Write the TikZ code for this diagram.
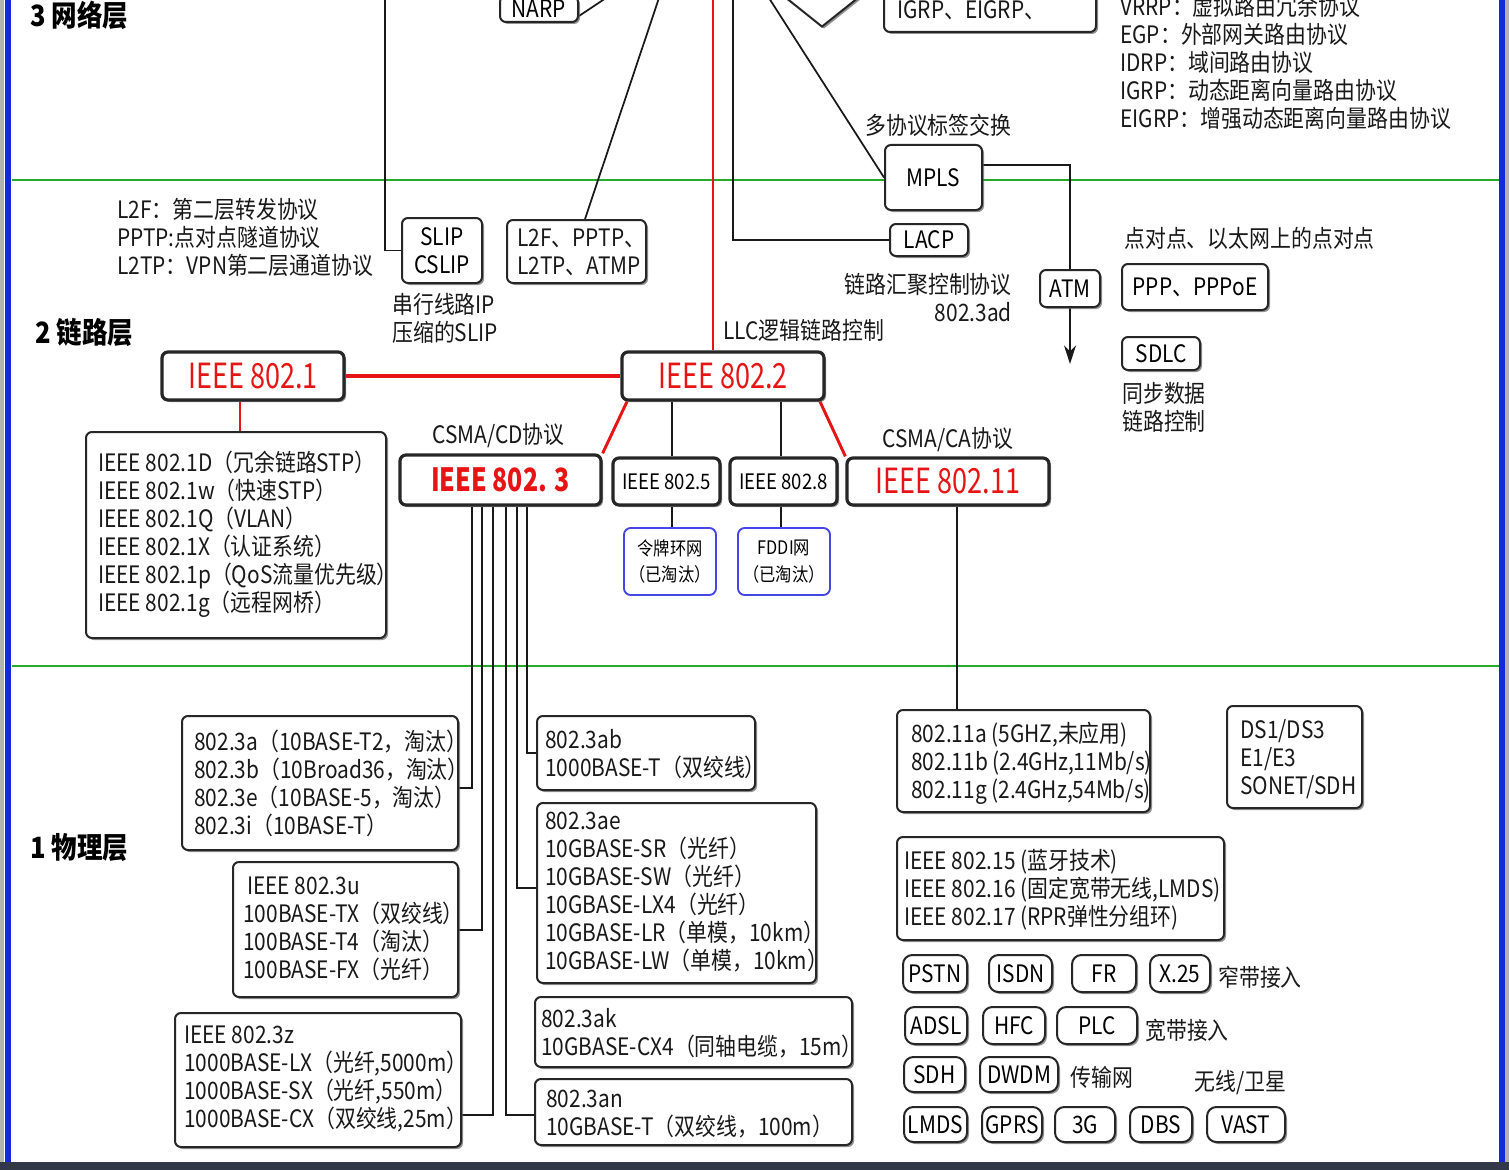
\documentclass[tikz,border=0pt]{standalone}
\usepackage{fontspec}
\setmainfont{Noto Sans CJK SC}[FakeStretch=0.87]
\newfontfamily\bigfont{Noto Sans CJK SC}[FakeStretch=0.78]
\usetikzlibrary{shadows,arrows.meta,shapes.geometric}
\definecolor{lgreen}{RGB}{40,170,40}
\definecolor{bred}{RGB}{230,20,20}
\definecolor{bblue}{RGB}{70,70,230}
\definecolor{fblue}{RGB}{20,40,220}
\definecolor{dbar}{RGB}{50,56,72}
\pgfdeclarelayer{bg}
\pgfsetlayers{bg,main}
\begin{document}
\begin{tikzpicture}[x=0.75pt,y=-0.75pt,
  f/.style={font=\fontsize{18pt}{21pt}\selectfont},
  txt/.style={f, inner sep=0pt, align=left, text=black!90},
  bxr/.style n args={4}{minimum width={((#3)-(#1))*0.75pt}, minimum height={((#4)-(#2))*0.75pt},
    at={({((#1)+(#3))/2},{((#2)+(#4))/2})}},
  bx/.style={draw=black!85, line width=1.5pt, rounded corners=4.5pt, fill=white, inner sep=0pt,
    drop shadow={shadow xshift=1.5pt, shadow yshift=-1.5pt, fill=black!60, opacity=0.7}, f, align=center},
  tbx/.style={bx, line width=2.4pt},
  blbx/.style={draw=bblue, line width=1.4pt, rounded corners=5pt, fill=white, inner sep=0pt,
    align=center, font=\fontsize{14pt}{20pt}\selectfont},
  sbx/.style={bx, rounded corners=7pt},
  ln/.style={draw=black!90, line width=1.3pt},
  rln/.style={draw=bred, line width=2.2pt},
  big/.style={text=bred, font=\bigfont\fontsize{26pt}{30pt}\selectfont},
  layer/.style={font=\fontsize{22pt}{26pt}\selectfont\bfseries, inner sep=0pt, anchor=west},
  gline/.style={draw=lgreen, line width=2pt},
]
\useasboundingbox (0,0) rectangle (1509,1170);
\clip (0,0) rectangle (1509,1170);

% ---------- layer labels
\node[layer] (l3) at (30,15) {3 网络层};
\node[layer] (l2) at (35,332) {2 链路层};
\node[layer] (l1) at (30,848) {1 物理层};

% ---------- top (network layer, cropped)
\node[bx, bxr={500}{-4}{578}{22}] (narp) {NARP};
\node[bx, diamond, minimum width=75pt, minimum height=60pt, rounded corners=0pt] (dia) at (822,-13) {};
\node[bx, bxr={884}{-30}{1096}{32}] (igrp) {};
\node[txt, anchor=west] (igrpt) at (897,10) {IGRP、EIGRP、};
\node[txt, anchor=west] (rtxt) at (1120,62) {VRRP：虚拟路由冗余协议\\EGP：外部网关路由协议\\IDRP：域间路由协议\\IGRP：动态距离向量路由协议\\EIGRP：增强动态距离向量路由协议};
\node[txt, anchor=west] (mplst) at (865,125) {多协议标签交换};
\node[bx, bxr={885}{145}{982}{210}] (mpls) {MPLS};
\coordinate (t385) at (385,-20);
\coordinate (t658) at (665,-20);
\coordinate (t713) at (713,-20);
\coordinate (t733) at (733,-20);
\coordinate (t751) at (751,-30);

% ---------- link layer
\node[bx, bxr={890}{224}{968}{256}] (lacp) {LACP};
\node[txt, anchor=east, align=right] (lacpt) at (1012,298) {链路汇聚控制协议\\802.3ad};
\node[bx, bxr={1040}{270}{1100}{307}] (atm) {ATM};
\coordinate (atmend) at (1070,364);
\node[txt, anchor=west] (pppt) at (1124,238) {点对点、以太网上的点对点};
\node[bx, bxr={1122}{264}{1268}{310}] (ppp) {PPP、PPPoE};
\node[bx, bxr={1122}{337}{1200}{370}] (sdlc) {SDLC};
\node[txt, anchor=west] (sdlct) at (1122,407) {同步数据\\链路控制};

\node[txt, anchor=west] (l2ft) at (117,237) {L2F：第二层转发协议\\PPTP:点对点隧道协议\\L2TP：VPN第二层通道协议};
\node[bx, bxr={402}{218}{482}{283}] (slip) {SLIP\\CSLIP};
\node[txt, anchor=west] (slipt) at (392,318) {串行线路IP\\压缩的SLIP};
\node[bx, bxr={507}{220}{646}{283}] (l2f) {};
\node[txt, anchor=west] (l2fb) at (517,252) {L2F、PPTP、\\L2TP、ATMP};
\node[txt, anchor=west] (llct) at (723,330) {LLC逻辑链路控制};

\node[tbx, big, bxr={162}{352}{344}{400}] (i8021) {IEEE 802.1};
\node[tbx, big, bxr={622}{352}{824}{400}] (i8022) {IEEE 802.2};
\node[bx, bxr={86}{432}{386}{638}] (l8021) {};
\node[txt, anchor=west] (l8021t) at (98,534) {IEEE 802.1D（冗余链路STP）\\IEEE 802.1w（快速STP）\\IEEE 802.1Q（VLAN）\\IEEE 802.1X（认证系统）\\IEEE 802.1p（QoS流量优先级）\\IEEE 802.1g（远程网桥）};
\node[txt, anchor=west] (csmacd) at (432,436) {CSMA/CD协议};
\node[tbx, big, bxr={400}{455}{601}{505}, font=\bigfont\fontsize{24pt}{28pt}\selectfont] (i8023) {\bfseries IEEE 802. 3};
\node[tbx, bxr={613}{458}{720}{505}, font=\fontsize{16pt}{19pt}\selectfont] (i8025) {IEEE 802.5};
\node[tbx, bxr={730}{458}{837}{505}, font=\fontsize{16pt}{19pt}\selectfont] (i8028) {IEEE 802.8};
\node[txt, anchor=west] (csmaca) at (882,440) {CSMA/CA协议};
\node[tbx, big, bxr={847}{458}{1049}{505}] (i80211) {IEEE 802.11};
\node[blbx, bxr={624}{528}{716}{595}] (token) {令牌环网\\（已淘汰）};
\node[blbx, bxr={738}{528}{830}{595}] (fddi) {FDDI网\\（已淘汰）};

% ---------- physical layer
\node[bx, bxr={182}{716}{458}{850}] (p3a) {};
\node[txt, anchor=west] (p3at) at (194,783) {802.3a（10BASE-T2，淘汰）\\802.3b（10Broad36，淘汰）\\802.3e（10BASE-5，淘汰）\\802.3i（10BASE-T）};
\node[bx, bxr={233}{862}{458}{997}] (p3u) {};
\node[txt, anchor=west] (p3ut) at (243,929) {\hspace{3pt}IEEE 802.3u\\100BASE-TX（双绞线）\\100BASE-T4（淘汰）\\100BASE-FX（光纤）};
\node[bx, bxr={175}{1013}{461}{1147}] (p3z) {};
\node[txt, anchor=west] (p3zt) at (184,1079) {IEEE 802.3z\\1000BASE-LX（光纤,5000m）\\1000BASE-SX（光纤,550m）\\1000BASE-CX（双绞线,25m）};
\node[bx, bxr={537}{716}{755}{790}] (p3ab) {};
\node[txt, anchor=west] (p3abt) at (545,754) {802.3ab\\1000BASE-T（双绞线）};
\node[bx, bxr={537}{803}{816}{983}] (p3ae) {};
\node[txt, anchor=west] (p3aet) at (545,892) {802.3ae\\10GBASE-SR（光纤）\\10GBASE-SW（光纤）\\10GBASE-LX4（光纤）\\10GBASE-LR（单模，10km）\\10GBASE-LW（单模，10km）};
\node[bx, bxr={535}{997}{852}{1067}] (p3ak) {};
\node[txt, anchor=west] (p3akt) at (541,1033) {802.3ak\\10GBASE-CX4（同轴电缆，15m）};
\node[bx, bxr={535}{1079}{852}{1145}] (p3an) {};
\node[txt, anchor=west] (p3ant) at (546,1114) {802.3an\\10GBASE-T（双绞线，100m）};

\node[bx, bxr={897}{710}{1150}{812}] (w11) {};
\node[txt, anchor=west] (w11t) at (911,763) {802.11a (5GHZ,未应用)\\802.11b (2.4GHz,11Mb/s)\\802.11g (2.4GHz,54Mb/s)};
\node[bx, bxr={1227}{706}{1362}{808}] (ds) {};
\node[txt, anchor=west] (dst) at (1240,759) {DS1/DS3\\E1/E3\\SONET/SDH};
\node[bx, bxr={897}{837}{1224}{940}] (w15) {};
\node[txt, anchor=west] (w15t) at (904,890) {IEEE 802.15 (蓝牙技术)\\IEEE 802.16 (固定宽带无线,LMDS)\\IEEE 802.17 (RPR弹性分组环)};

\node[sbx, bxr={903}{955}{967}{992}] (pstn) {PSTN};
\node[sbx, bxr={989}{955}{1052}{992}] (isdn) {ISDN};
\node[sbx, bxr={1072}{955}{1136}{992}] (fr) {FR};
\node[sbx, bxr={1150}{955}{1210}{992}] (x25) {X.25};
\node[txt, anchor=west] (nb) at (1218,977) {窄带接入};
\node[sbx, bxr={905}{1007}{967}{1044}] (adsl) {ADSL};
\node[sbx, bxr={983}{1007}{1045}{1044}] (hfc) {HFC};
\node[sbx, bxr={1057}{1007}{1137}{1044}] (plc) {PLC};
\node[txt, anchor=west] (wb) at (1145,1030) {宽带接入};
\node[sbx, bxr={904}{1057}{965}{1092}] (sdh) {SDH};
\node[sbx, bxr={980}{1057}{1058}{1092}] (dwdm) {DWDM};
\node[txt, anchor=west] (tn) at (1070,1077) {传输网};
\node[txt, anchor=west] (wx) at (1194,1083) {无线/卫星};
\node[sbx, bxr={904}{1107}{967}{1142}] (lmds) {LMDS};
\node[sbx, bxr={982}{1107}{1042}{1142}] (gprs) {GPRS};
\node[sbx, bxr={1055}{1107}{1115}{1142}] (g3) {3G};
\node[sbx, bxr={1130}{1107}{1192}{1142}] (dbs) {DBS};
\node[sbx, bxr={1207}{1107}{1285}{1142}] (vast) {VAST};

% ---------- lines behind
\begin{pgfonlayer}{bg}
\fill[white] (0,0) rectangle (1509,1170);
\draw[gline] (12,180) -- (1500,180);
\draw[gline] (12,666) -- (1500,666);
\draw[ln] (t385) |- (slip.west);
\draw[ln] (t658) -- (l2f.north -| 585,0);
\draw[rln] (t713) -- (t713 |- i8022.north);
\draw[ln] (t733) |- (lacp.west);
\draw[ln] (t751) -- (mpls.west);
\draw[ln] (narp.east |- 0,16) -- ++(30,-20);
\draw[ln] (mpls.east |- 0,165) -| (atm.north);
\draw[ln, -{Stealth[length=14pt,width=9pt]}] (atm.south) -- (atmend);
\draw[rln, line width=3.5pt] (i8021.east) -- (i8022.west);
\draw[rln] (i8021.south -| 240,0) -- (l8021.north -| 240,0);
\draw[rln] (i8022.south -| 627,0) -- (i8023.north east);
\draw[rln] (i8022.south -| 820,0) -- (i80211.north west);
\draw[ln] (i8022.south -| 672,0) -- (i8025.north -| 672,0);
\draw[ln] (i8022.south -| 781,0) -- (i8028.north -| 781,0);
\draw[ln] (i8025.south -| 672,0) -- (token.north -| 672,0);
\draw[ln] (i8028.south -| 781,0) -- (fddi.north -| 781,0);
\draw[ln] (i80211.south -| 957,0) -- (w11.north -| 957,0);
\draw[ln] (i8023.south -| 472,0) |- (p3a.east |- 0,788);
\draw[ln] (i8023.south -| 482,0) |- (p3u.east |- 0,930);
\draw[ln] (i8023.south -| 493,0) |- (p3z.east |- 0,1115);
\draw[ln] (i8023.south -| 506,0) |- (p3an.west |- 0,1115);
\draw[ln] (i8023.south -| 517,0) |- (p3ae.west |- 0,888);
\draw[ln] (i8023.south -| 527,0) |- (p3ab.west |- 0,753);
\end{pgfonlayer}

% ---------- frame
\fill[black!30] (0,0) rectangle (4,1170);
\fill[fblue] (5,0) rectangle (11,1170);
\fill[fblue] (1499,0) rectangle (1505,1170);
\fill[black!30] (1505,0) rectangle (1509,1170);
\fill[dbar] (0,1162) rectangle (1509,1170);
\end{tikzpicture}
\end{document}
